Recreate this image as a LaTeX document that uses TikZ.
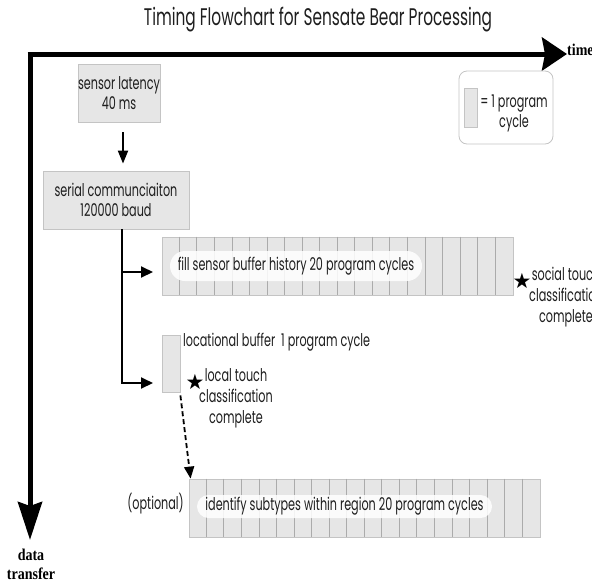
\documentclass[tikz,border=0pt]{standalone}
\usepackage{fontspec}
\setmainfont{Poppins}[FakeStretch=0.64]
\newfontfamily\serifb{Liberation Serif}[FakeStretch=0.85]
\newfontfamily\symfont{DejaVu Sans}
\usetikzlibrary{arrows.meta,shapes.misc}
\definecolor{boxfill}{HTML}{E6E6E6}
\definecolor{boxline}{HTML}{C4C4C4}
\definecolor{cellline}{HTML}{ABABAB}
\definecolor{ink}{HTML}{1E1E1E}
\begin{document}
\begin{tikzpicture}[x=1pt,y=-1pt,
  txt/.style={font=\fontsize{17.5}{20}\selectfont, text=ink, inner sep=0pt},
  graybox/.style={draw=boxline, fill=boxfill, line width=0.8pt, inner sep=0pt, align=center, txt},
  buf/.style={draw=boxline, fill=boxfill, line width=0.8pt, inner sep=0pt, minimum width=351pt, minimum height=58pt},
  pill/.style={rounded rectangle, fill=white, fill opacity=0.85, text opacity=1, inner sep=0pt, txt},
  conn/.style={line width=2pt, -{Triangle[length=12pt,width=11pt]}},
  axis/.style={line width=5pt},
  starnode/.style={font=\symfont\fontsize{21}{21}\selectfont, inner sep=0pt},
  boldlbl/.style={font=\serifb\bfseries\fontsize{16.5}{19}\selectfont, inner sep=0pt, align=center},
]
\useasboundingbox (0,0) rectangle (592,582);

% title
\node[font=\fontsize{24}{26}\selectfont, text=ink, inner sep=0pt] (title) at (318,20) {Timing Flowchart for Sensate Bear Processing};

% axes
\coordinate (hstart) at (27.5,54);
\coordinate (timeend) at (567,54);
\coordinate (vstart) at (30,54);
\coordinate (dataend) at (30,540);
\draw[axis, -{Stealth[length=25pt,width=33pt,inset=3pt]}] (hstart) -- (timeend);
\draw[axis, -{Stealth[length=38pt,width=24pt,inset=4pt]}] (vstart) -- (dataend);
\node[boldlbl, anchor=base west] (timelbl) at (567,55) {time};
\node[boldlbl, anchor=base] (datalbl) at (31,579) {data\\transfer};

% legend
\node[draw=boxline, fill=white, rounded corners=8pt, minimum width=94pt, minimum height=73pt, line width=0.8pt] (legend) at (506,107.5) {};
\node[graybox, minimum width=13pt, minimum height=39pt] (legcell) at (470.5,107.5) {};
\node[txt, align=center] (legtxt) at (514,113) {= 1 program\\cycle};

% boxes
\node[graybox, minimum width=82pt, minimum height=58pt] (sensor) at (119,93) {sensor latency\\40 ms};
\node[graybox, minimum width=146pt, minimum height=58pt] (serial) at (116,200) {serial communciaiton\\120000 baud};
\draw[line width=2pt, -{Triangle[length=13pt,width=10pt]}, shorten <=10pt, shorten >=7pt]
  ([xshift=4pt]sensor.south) -- ([xshift=4pt]sensor.south |- serial.north);

% branches
\coordinate (split) at (122,229);
\coordinate (tipA) at (153,272);
\coordinate (tipB) at (153,383);
\draw[conn] (split) |- (tipA);
\draw[conn] (split) |- (tipB);

% fill buffer
\node[buf] (fillbuf) at (337.5,266) {};
\foreach \i in {1,...,19}
  \draw[cellline, line width=0.6pt] ([xshift=\i*17.55pt]fillbuf.north west) -- ([xshift=\i*17.55pt]fillbuf.south west);
\node[pill, minimum width=252pt, minimum height=30pt] (fillpill) at (296,266) {fill sensor buffer history 20 program cycles};
\node[starnode] (star1) at (522,281) {★};
\node[txt, align=center, font=\fontsize{17.5}{21}\selectfont] (socialtxt) at (566,297) {social touch\\classification\\complete};

% locational buffer
\node[graybox, minimum width=18pt, minimum height=57pt] (loccell) at (171,363.5) {};
\node[txt, anchor=west] (loclbl) at (183,342) {locational buffer\ \ 1 program cycle};
\node[starnode] (star2) at (195,382) {★};
\node[txt, align=center, font=\fontsize{17.5}{21}\selectfont] (localtxt) at (236,398) {local touch\\classification\\complete};

% optional subtype buffer
\node[buf] (subbuf) at (364.5,508) {};
\foreach \i in {1,...,19}
  \draw[cellline, line width=0.6pt] ([xshift=\i*17.55pt]subbuf.north west) -- ([xshift=\i*17.55pt]subbuf.south west);
\node[pill, minimum width=295pt, minimum height=23pt] (subpill) at (344.5,506.5) {identify subtypes within region 20 program cycles};
\node[txt, anchor=east] (opt) at (184,504) {(optional)};

\draw[line width=1.8pt, dash pattern=on 5pt off 3pt, -{Triangle[length=12pt,width=10pt]}]
  ([yshift=-3pt]loccell.south east) -- ([xshift=2pt]subbuf.north west);
\end{tikzpicture}
\end{document}
